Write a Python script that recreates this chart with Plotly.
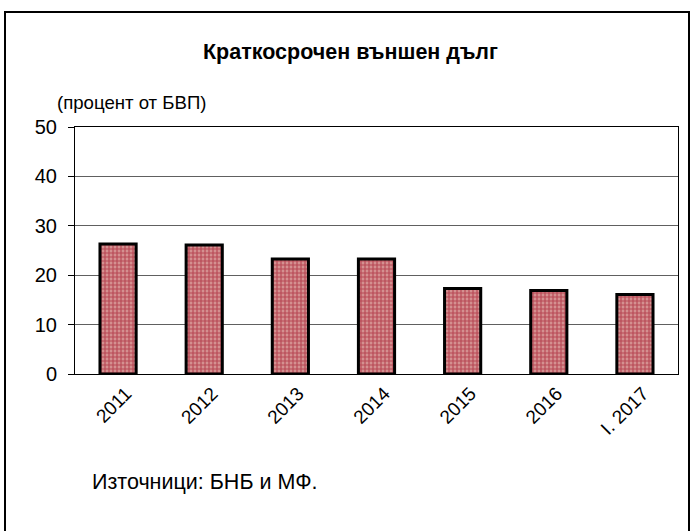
import plotly.graph_objects as go

categories = ["2011", "2012", "2013", "2014", "2015", "2016", "I. 2017"]
values = [26.3, 26.1, 23.3, 23.3, 17.3, 16.9, 16.1]
y_ticks = [0, 10, 20, 30, 40, 50]

W, H = 691, 531
X0, X1, Y0, Y1 = 75, 678, 127, 374
L, R, T, B = X0, W - X1, Y0, H - Y1
pw = W - L - R
ph = H - T - B

def px(x):
    return (x - X0) / pw

def py(y):
    return (Y1 - y) / ph

fig = go.Figure()
fig.add_trace(go.Bar(
    x=categories, y=values, width=0.42,
    marker=dict(
        color="#c87c7c",
        line=dict(color="black", width=3),
        pattern=dict(shape="+", fgcolor="#9a0018", bgcolor="#d49090", size=4, solidity=0.5),
    ),
))

font = "Liberation Sans, Arial, sans-serif"
fig.update_layout(
    width=W, height=H,
    margin=dict(l=L, r=R, t=T, b=B),
    paper_bgcolor="white", plot_bgcolor="white",
    showlegend=False,
    font=dict(family=font, color="black"),
    xaxis=dict(
        showgrid=False, showline=True, linecolor="black", linewidth=1, mirror=True,
        tickangle=-45, tickfont=dict(size=19, family=font), ticks="",
        ticklabelshift=8,
    ),
    yaxis=dict(
        range=[0, 50], tickvals=y_ticks, showgrid=True, gridcolor="#606060", gridwidth=1,
        showline=True, linecolor="black", linewidth=1, mirror=True,
        ticks="outside", ticklen=6, tickcolor="black",
        tickfont=dict(size=20, family=font), zeroline=False,
        ticklabelstandoff=7,
    ),
    shapes=[dict(type="rect", xref="paper", yref="paper",
                 x0=px(5), x1=px(689), y0=py(540), y1=py(12),
                 line=dict(color="black", width=2), fillcolor="rgba(0,0,0,0)", layer="above")],
    annotations=[
        dict(text="<b>Краткосрочен външен дълг</b>", xref="paper", yref="paper",
             x=px(350), y=py(52), xanchor="center", yanchor="middle", showarrow=False,
             font=dict(size=21.5, family=font)),
        dict(text="(процент от БВП)", xref="paper", yref="paper",
             x=px(55), y=py(102), xanchor="left", yanchor="middle", showarrow=False,
             font=dict(size=18.6, family=font)),
        dict(text="Източници: БНБ и МФ.", xref="paper", yref="paper",
             x=px(90), y=py(482), xanchor="left", yanchor="middle", showarrow=False,
             font=dict(size=21.5, family=font)),
    ],
)

fig.write_html("out.html", config={"displayModeBar": False},
               post_script="document.body.style.margin='0';")
